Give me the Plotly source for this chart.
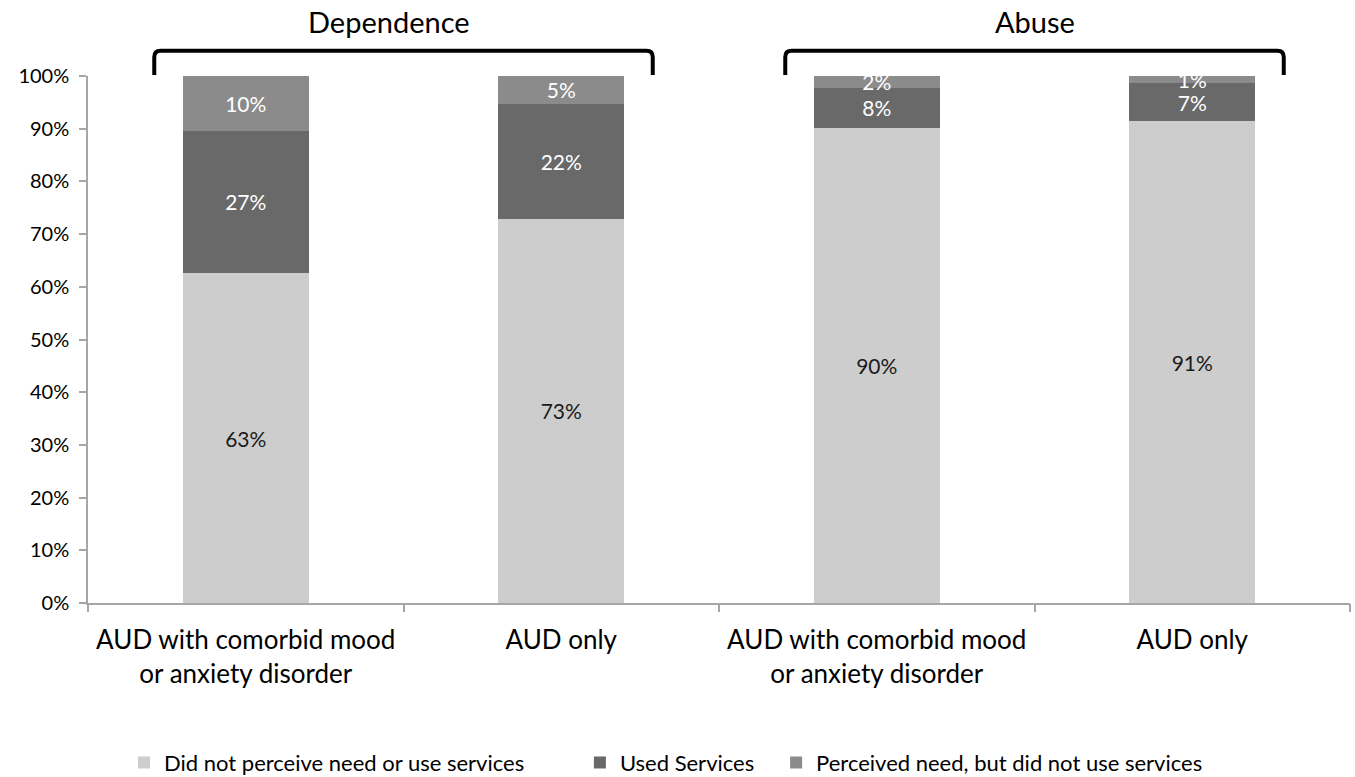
import plotly.graph_objects as go

# ---- data ----
group_titles = ["Dependence", "Abuse"]
group_centers = [0.5, 2.5]
category_labels = [
    "AUD with comorbid mood<br>or anxiety disorder",
    "AUD only",
    "AUD with comorbid mood<br>or anxiety disorder",
    "AUD only",
]
x_pos = [0, 1, 2, 3]
not_perceived = [62.6, 72.9, 90.2, 91.4]
used_services = [27.0, 21.8, 7.6, 7.2]
perceived_not_used = [10.4, 5.3, 2.2, 1.4]
series_names = [
    "Did not perceive need or use services",
    "Used Services",
    "Perceived need, but did not use services",
]
y_ticks = [0, 10, 20, 30, 40, 50, 60, 70, 80, 90, 100]
y_tick_labels = [f"{v}%" for v in y_ticks]

# ---- styles ----
FONT = "Lato, 'Open Sans', sans-serif"
colors = ["#cdcdcd", "#696969", "#8b8b8b"]
text_colors = ["#1a1a1a", "#ffffff", "#ffffff"]
legend_pad = ["\u00a0" * 9, "\u00a0" * 3, ""]
title_shift = [-0.045, 0.0]

fig = go.Figure()
for name, pad, vals, col, tcol in zip(series_names, legend_pad,
                                      [not_perceived, used_services, perceived_not_used],
                                      colors, text_colors):
    fig.add_trace(go.Bar(
        x=x_pos, y=vals, name=name + pad, width=0.4,
        marker=dict(color=col, line=dict(width=0)),
        text=[f"{round(v)}%" for v in vals],
        textposition="inside", insidetextanchor="middle",
        constraintext="none", textangle=0,
        textfont=dict(family=FONT, size=21, color=tcol),
        hoverinfo="skip",
    ))

# invisible trace to anchor the boundary-tick axis
fig.add_trace(go.Scatter(x=[-0.5, 3.5], y=[0, 0], xaxis="x2", mode="lines",
                         line=dict(width=0), showlegend=False, hoverinfo="skip"))

# brackets
half = 0.79
for c, title, dx in zip(group_centers, group_titles, title_shift):
    x0, x1 = c - half, c + half
    yb, yt = 1.002, 1.048
    r = 0.012
    rx = 0.02
    path = (f"M {x0},{yb} L {x0},{yt - r} Q {x0},{yt} {x0 + rx},{yt} "
            f"L {x1 - rx},{yt} Q {x1},{yt} {x1},{yt - r} L {x1},{yb}")
    fig.add_shape(type="path", path=path, xref="x", yref="paper",
                  line=dict(color="black", width=4))
    fig.add_annotation(x=c + dx, y=1.103, xref="x", yref="paper", text=title,
                       showarrow=False, font=dict(family=FONT, size=29, color="black"),
                       yanchor="middle")

fig.update_layout(
    barmode="stack",
    width=1355, height=777,
    margin=dict(l=88, r=5, t=76, b=174, autoexpand=False),
    paper_bgcolor="white", plot_bgcolor="white",
    font=dict(family=FONT, color="black"),
    showlegend=True,
    legend=dict(orientation="h", x=0.458, xanchor="center", y=-0.303, yanchor="middle",
                font=dict(family=FONT, size=22, color="black"),
                traceorder="normal", itemwidth=30),
    xaxis=dict(range=[-0.5, 3.5], tickvals=x_pos, ticktext=category_labels,
               ticks="", showline=True, linecolor="#a6a6a6", linewidth=1.5,
               showgrid=False, zeroline=False, ticklabelstandoff=13,
               tickfont=dict(family=FONT, size=26, color="black")),
    xaxis2=dict(range=[-0.5, 3.5], overlaying="x", anchor="y", side="bottom",
                tickvals=[-0.5, 0.5, 1.5, 2.5, 3.5], ticks="outside", ticklen=8,
                tickcolor="#a6a6a6", tickwidth=1.5, showticklabels=False,
                showline=False, showgrid=False, zeroline=False),
    yaxis=dict(range=[0, 100], tickvals=y_ticks, ticktext=y_tick_labels,
               ticks="outside", ticklen=7, tickcolor="#a6a6a6", tickwidth=1.5,
               showline=True, linecolor="#a6a6a6", linewidth=1.5,
               showgrid=False, zeroline=False, ticklabelstandoff=6,
               tickfont=dict(family=FONT, size=20, color="black")),
)

fig.write_html("out.html")
